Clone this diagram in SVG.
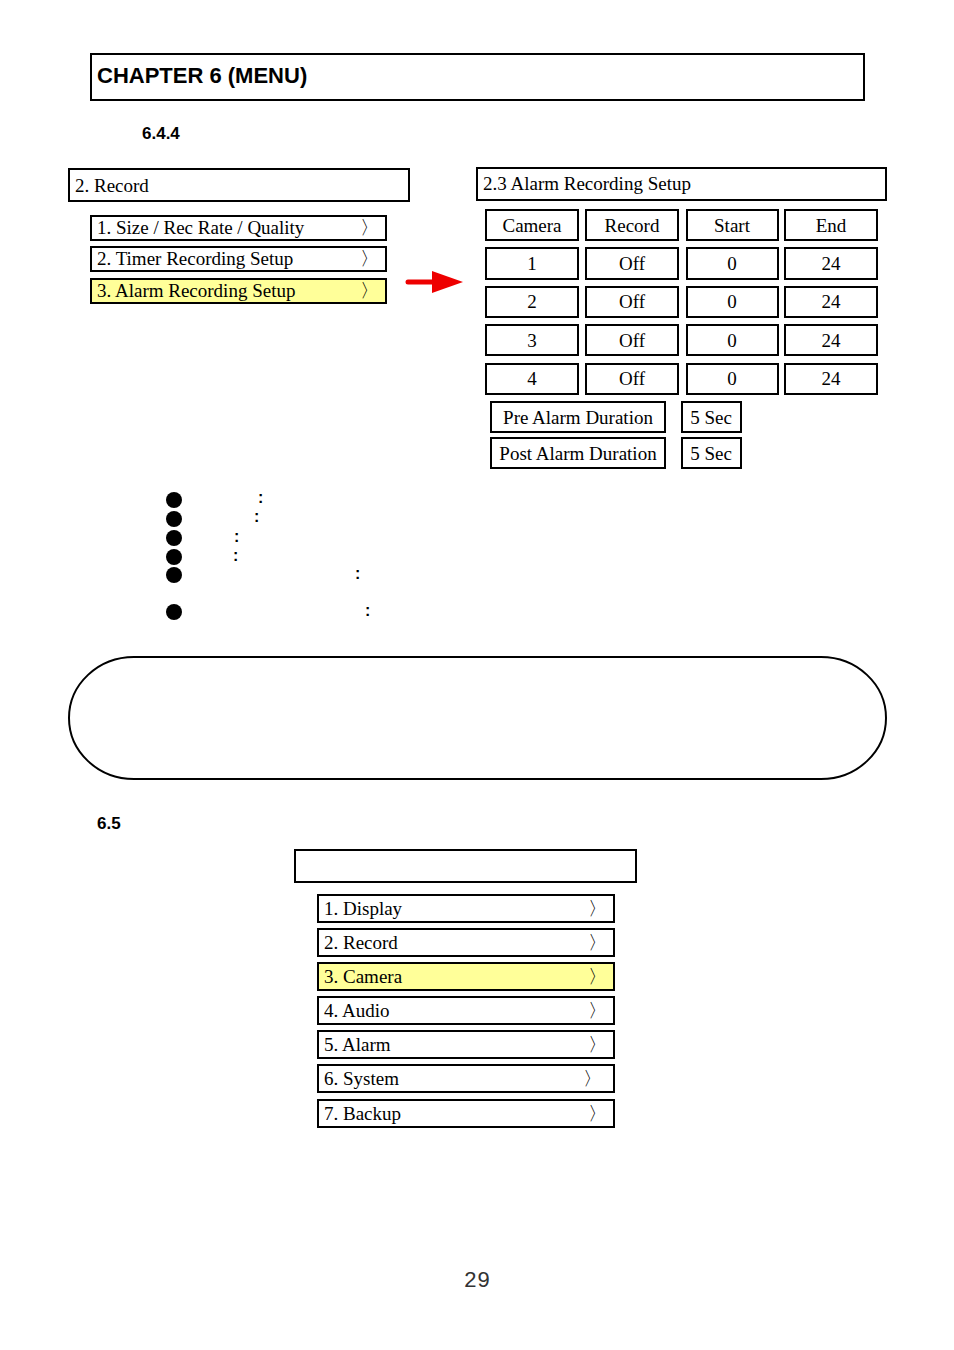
<svg xmlns="http://www.w3.org/2000/svg" width="954" height="1350" viewBox="0 0 954 1350">
<style>
.b{fill:#fff;stroke:#000;stroke-width:2}
.y{fill:#ffff99;stroke:#000;stroke-width:2}
.t{font-family:"Liberation Serif",serif;font-size:19px;fill:#000}
.c{text-anchor:middle}
.h{font-family:"Liberation Sans",Arial,sans-serif;font-weight:bold;fill:#000}
</style>
<rect width="954" height="1350" fill="#fff"/>
<g id="chapter"><rect class="b" x="91" y="54" width="773" height="46"/><text class="h" x="97" y="83" font-size="22">CHAPTER 6 (MENU)</text></g>
<text class="h" x="142" y="139" font-size="17">6.4.4</text>
<g id="record-menu">
<rect class="b" x="69" y="169" width="340" height="32"/><text class="t" x="75" y="192">2. Record</text>
<rect class="b" x="91" y="216" width="295" height="24"/><text class="t" x="97" y="234">1. Size / Rec Rate / Quality</text><text class="t" x="360" y="234">〉</text>
<rect class="b" x="91" y="247" width="295" height="24"/><text class="t" x="97" y="265">2. Timer Recording Setup</text><text class="t" x="360" y="265">〉</text>
<rect class="y" x="91" y="279" width="295" height="24"/><text class="t" x="97" y="297">3. Alarm Recording Setup</text><text class="t" x="360" y="297">〉</text>
</g>
<g id="connectors"><line x1="408" y1="282" x2="440" y2="282" stroke="#e00" stroke-width="5" stroke-linecap="round"/><polygon points="432,271 463,282 432,293" fill="#e00"/></g>
<g id="alarm-setup">
<rect class="b" x="477" y="168" width="409" height="32"/><text class="t" x="483" y="190">2.3 Alarm Recording Setup</text>
<g class="t c">
<rect class="b" x="486" y="210" width="92" height="30"/><text x="532" y="232">Camera</text>
<rect class="b" x="586" y="210" width="92" height="30"/><text x="632" y="232">Record</text>
<rect class="b" x="687" y="210" width="91" height="30"/><text x="732" y="232">Start</text>
<rect class="b" x="785" y="210" width="92" height="30"/><text x="831" y="232">End</text>
<rect class="b" x="486" y="248" width="92" height="31"/><text x="532" y="270">1</text>
<rect class="b" x="586" y="248" width="92" height="31"/><text x="632" y="270">Off</text>
<rect class="b" x="687" y="248" width="91" height="31"/><text x="732" y="270">0</text>
<rect class="b" x="785" y="248" width="92" height="31"/><text x="831" y="270">24</text>
<rect class="b" x="486" y="287" width="92" height="30"/><text x="532" y="308">2</text>
<rect class="b" x="586" y="287" width="92" height="30"/><text x="632" y="308">Off</text>
<rect class="b" x="687" y="287" width="91" height="30"/><text x="732" y="308">0</text>
<rect class="b" x="785" y="287" width="92" height="30"/><text x="831" y="308">24</text>
<rect class="b" x="486" y="325" width="92" height="30"/><text x="532" y="347">3</text>
<rect class="b" x="586" y="325" width="92" height="30"/><text x="632" y="347">Off</text>
<rect class="b" x="687" y="325" width="91" height="30"/><text x="732" y="347">0</text>
<rect class="b" x="785" y="325" width="92" height="30"/><text x="831" y="347">24</text>
<rect class="b" x="486" y="364" width="92" height="30"/><text x="532" y="385">4</text>
<rect class="b" x="586" y="364" width="92" height="30"/><text x="632" y="385">Off</text>
<rect class="b" x="687" y="364" width="91" height="30"/><text x="732" y="385">0</text>
<rect class="b" x="785" y="364" width="92" height="30"/><text x="831" y="385">24</text>
<rect class="b" x="491" y="402" width="174" height="30"/><text x="578" y="424">Pre Alarm Duration</text>
<rect class="b" x="682" y="402" width="59" height="30"/><text x="711" y="424">5 Sec</text>
<rect class="b" x="491" y="438" width="174" height="30"/><text x="578" y="460">Post Alarm Duration</text>
<rect class="b" x="682" y="438" width="59" height="30"/><text x="711" y="460">5 Sec</text>
</g></g>
<g id="bullets" fill="#000">
<circle cx="174" cy="500" r="8"/><circle cx="174" cy="519" r="8"/><circle cx="174" cy="538" r="8"/><circle cx="174" cy="557" r="8"/><circle cx="174" cy="575" r="8"/><circle cx="174" cy="612" r="8"/>
<g font-family="Liberation Sans,sans-serif" font-size="16" font-weight="bold"><text x="258" y="503">:</text><text x="254" y="522">:</text><text x="234" y="542">:</text><text x="233" y="561">:</text><text x="355" y="579">:</text><text x="365" y="616">:</text></g>
</g>
<g id="note"><rect x="69" y="657" width="817" height="122" rx="65" ry="61" fill="#fff" stroke="#000" stroke-width="2"/></g>
<text class="h" x="97" y="829" font-size="17">6.5</text>
<g id="main-menu">
<rect class="b" x="295" y="850" width="341" height="32"/>
<rect class="b" x="318" y="895" width="296" height="27"/><text class="t" x="324" y="915">1. Display</text><text class="t" x="588" y="915">〉</text>
<rect class="b" x="318" y="929" width="296" height="27"/><text class="t" x="324" y="949">2. Record</text><text class="t" x="588" y="949">〉</text>
<rect class="y" x="318" y="963" width="296" height="27"/><text class="t" x="324" y="983">3. Camera</text><text class="t" x="588" y="983">〉</text>
<rect class="b" x="318" y="997" width="296" height="27"/><text class="t" x="324" y="1017">4. Audio</text><text class="t" x="588" y="1017">〉</text>
<rect class="b" x="318" y="1031" width="296" height="27"/><text class="t" x="324" y="1051">5. Alarm</text><text class="t" x="588" y="1051">〉</text>
<rect class="b" x="318" y="1065" width="296" height="27"/><text class="t" x="324" y="1085">6. System</text><text class="t" x="583" y="1085">〉</text>
<rect class="b" x="318" y="1100" width="296" height="27"/><text class="t" x="324" y="1120">7. Backup</text><text class="t" x="588" y="1120">〉</text>
</g>
<text x="477" y="1287" text-anchor="middle" font-family="Liberation Mono,monospace" font-size="22" fill="#333">29</text>
</svg>
